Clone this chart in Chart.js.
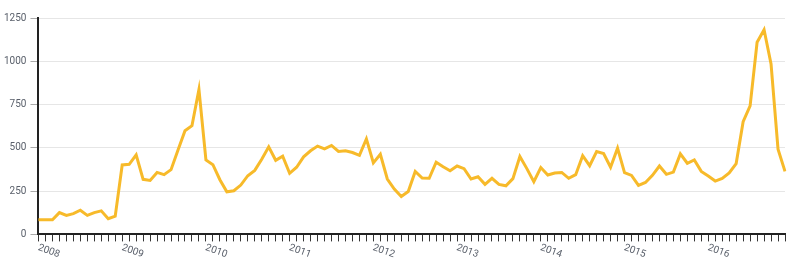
<!DOCTYPE html>
<html>
<head>
<meta charset="utf-8">
<script src="https://cdn.jsdelivr.net/npm/chart.js@4/dist/chart.umd.min.js"></script>
<style>
  body { margin: 0; background: #fff; }
  #wrap { width: 800px; height: 274px; }
</style>
</head>
<body>
<div id="wrap"><canvas id="myChart"></canvas></div>
<script>
// tick labels (one per year) and monthly categories
const years = ["2008", "2009", "2010", "2011", "2012", "2013", "2014", "2015", "2016"];
const months = ["01", "02", "03", "04", "05", "06", "07", "08", "09", "10", "11", "12"];
const yTicks = [0, 250, 500, 750, 1000, 1250];

// monthly values
const values = [
  85, 85, 85, 126, 110, 120, 140, 110, 126, 136, 91, 105,
  401, 405, 459, 318, 312, 358, 345, 374, 488, 599, 628, 837,
  430, 403, 316, 246, 252, 285, 339, 370, 434, 506, 428, 452,
  353, 388, 448, 483, 510, 494, 514, 479, 483, 473, 457, 552,
  413, 463, 320, 262, 219, 248, 364, 326, 324, 417, 391, 368,
  395, 380, 320, 333, 289, 324, 289, 281, 322, 450, 380, 304,
  386, 343, 355, 358, 324, 345, 455, 397, 479, 467, 388, 498,
  357, 341, 283, 300, 341, 395, 347, 360, 465, 411, 430, 364,
  337, 308, 324, 355, 409, 651, 742, 1110, 1182, 984, 492, 364,
];

const labels = [];
years.forEach((y) => months.forEach((m) => labels.push(y + "-" + m)));

const tickFont = { family: "Roboto", size: 10 };
const tickColor = "#5a606b";

var ctx = document.getElementById("myChart").getContext("2d");
var chart = new Chart(ctx, {
  type: "line",
  data: {
    labels: labels,
    datasets: [
      {
        label: "count",
        data: values,
        borderColor: "#f7ba2a",
        borderWidth: 3,
        pointRadius: 0,
        tension: 0,
      },
    ],
  },
  options: {
    responsive: true,
    maintainAspectRatio: false,
    animation: false,
    layout: { padding: { top: 18, right: 15, bottom: 13, left: 0 } },
    plugins: { legend: { display: false }, tooltip: { enabled: false } },
    scales: {
      x: {
        // no lines in the plot, only dark tick marks under the axis
        grid: { color: "rgba(0,0,0,0)", tickLength: 7, tickColor: "#333", tickWidth: 1 },
        border: { color: "#222", width: 2 },
        ticks: {
          autoSkip: false,
          minRotation: -20,
          maxRotation: -20,
          padding: 8,
          font: tickFont,
          color: tickColor,
          // year label sits a few months in so that it hangs to the right of January
          callback: (v, i) => (i % 12 === 3 ? years[Math.floor(i / 12)] : ""),
        },
      },
      y: {
        min: 0,
        max: 1250,
        afterBuildTicks: (s) => { s.ticks = yTicks.map((v) => ({ value: v })); },
        grid: { color: "#e6e6e6", tickLength: 8, tickColor: "#aaa" },
        border: { color: "#222", width: 2 },
        ticks: { font: tickFont, color: tickColor, padding: 4, callback: (v) => String(v) },
      },
    },
  },
});
</script>
</body>
</html>
